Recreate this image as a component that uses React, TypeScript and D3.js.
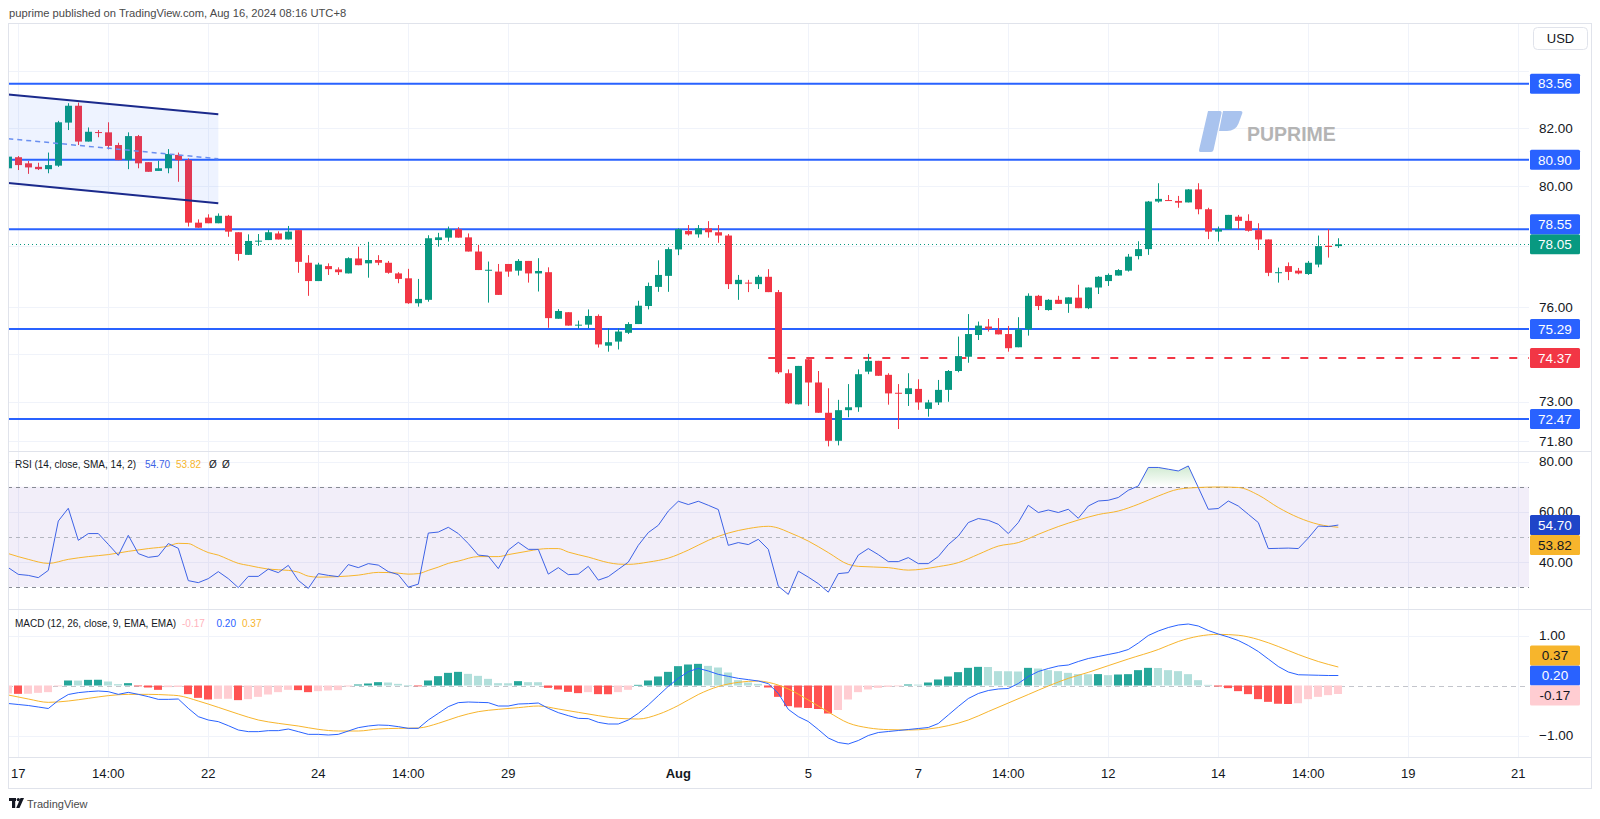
import React from "react";
import * as d3 from "d3";

// ---------- DATA (4h candles, bar index 0..133) ----------
const opens = [
  80.61, 80.99, 80.78, 80.66, 80.58, 80.70, 82.19, 82.78, 81.53, 81.86,
  81.85, 81.41, 80.89, 81.72, 80.82, 80.52, 80.61, 81.07, 80.89, 78.77,
  78.94, 78.75, 79.00, 78.45, 77.70, 78.15, 78.19, 78.41, 78.21, 78.52,
  77.44, 76.84, 77.33, 77.22, 77.09, 77.58, 77.42, 77.53, 77.44, 77.09,
  76.93, 76.12, 76.23, 78.19, 78.27, 78.55, 78.28, 77.81, 77.19, 77.15,
  77.40, 77.18, 77.50, 77.09, 77.13, 75.62, 75.83, 75.41, 75.43, 75.71,
  74.76, 74.89, 75.17, 75.45, 76.03, 76.65, 77.01, 77.88, 78.49, 78.38,
  78.58, 78.45, 78.34, 76.74, 76.79, 76.74, 76.98, 76.48, 73.89, 72.92,
  74.33, 73.60, 72.66, 71.80, 72.74, 72.83, 73.94, 74.28, 73.84, 73.28,
  73.24, 73.40, 72.78, 72.98, 73.37, 73.96, 74.41, 75.10, 75.37, 75.26,
  75.13, 74.71, 75.28, 76.36, 75.90, 76.23, 76.10, 76.30, 75.96, 76.63,
  76.84, 77.02, 77.18, 77.66, 77.89, 79.48, 79.53, 79.50, 79.45, 79.89,
  79.22, 78.47, 78.55, 78.97, 78.83, 78.52, 78.21, 77.11, 77.33, 77.18,
  77.07, 77.38, 78.00, 77.99,
];
const highs = [
  81.20, 81.03, 80.86, 80.80, 81.15, 82.25, 82.87, 82.89, 82.02, 81.93,
  82.20, 81.49, 81.85, 81.76, 80.82, 80.87, 81.27, 81.15, 80.95, 78.88,
  79.05, 79.08, 79.03, 78.45, 78.38, 78.39, 78.53, 78.48, 78.66, 78.52,
  77.69, 77.44, 77.42, 77.29, 77.62, 77.97, 78.13, 77.69, 77.50, 77.13,
  77.24, 76.91, 78.35, 78.43, 78.64, 78.62, 78.41, 78.03, 77.48, 77.40,
  77.40, 77.56, 77.50, 77.59, 77.29, 75.93, 75.83, 75.56, 75.92, 75.76,
  75.31, 75.31, 75.51, 76.20, 76.79, 77.52, 77.95, 78.58, 78.69, 78.69,
  78.82, 78.69, 78.39, 77.04, 76.88, 77.04, 77.23, 76.55, 74.01, 74.12,
  74.37, 73.96, 73.42, 73.06, 73.55, 74.01, 74.50, 74.28, 73.89, 73.55,
  73.89, 73.70, 73.06, 73.68, 73.99, 75.05, 75.77, 75.53, 75.61, 75.64,
  75.39, 75.67, 76.44, 76.39, 76.25, 76.36, 76.31, 76.72, 76.63, 77.00,
  77.09, 77.23, 77.73, 78.15, 79.50, 80.10, 79.70, 79.67, 79.90, 80.10,
  79.27, 78.64, 79.03, 79.03, 79.05, 78.75, 78.21, 77.28, 77.45, 77.27,
  77.50, 78.34, 78.55, 78.25,
];
const lows = [
  80.49, 80.55, 80.42, 80.55, 80.44, 80.66, 81.93, 81.41, 81.53, 81.68,
  81.26, 80.89, 80.58, 80.61, 80.49, 80.52, 80.44, 80.15, 78.64, 78.60,
  78.75, 78.75, 78.30, 77.51, 77.70, 78.00, 78.19, 78.21, 78.21, 77.11,
  76.36, 76.84, 77.04, 77.04, 77.09, 77.36, 76.95, 77.36, 77.08, 76.77,
  76.10, 76.01, 76.17, 77.97, 78.14, 78.27, 77.81, 77.20, 76.14, 76.39,
  76.98, 77.02, 76.79, 76.50, 75.33, 75.62, 75.40, 75.30, 75.31, 74.70,
  74.57, 74.64, 75.13, 75.45, 75.92, 76.49, 76.49, 77.69, 78.34, 78.27,
  78.27, 78.10, 76.58, 76.23, 76.48, 76.58, 76.48, 73.87, 72.93, 72.92,
  72.87, 72.66, 71.63, 71.66, 72.52, 72.69, 73.86, 73.81, 72.91, 72.16,
  72.87, 72.75, 72.54, 72.90, 73.00, 73.92, 74.22, 74.94, 75.21, 75.12,
  74.57, 74.71, 75.08, 75.90, 75.88, 76.10, 75.81, 75.96, 75.93, 76.42,
  76.68, 77.02, 77.15, 77.55, 77.70, 79.44, 79.50, 79.27, 79.45, 79.05,
  78.22, 78.14, 78.55, 78.55, 78.47, 77.86, 77.00, 76.79, 76.87, 77.06,
  77.04, 77.29, 77.61, 77.93,
];
const closes = [
  81.01, 80.72, 80.64, 80.58, 80.72, 82.20, 82.78, 81.53, 81.87, 81.84,
  81.38, 80.89, 81.72, 80.78, 80.49, 80.61, 81.10, 80.89, 78.77, 78.60,
  78.75, 79.00, 78.47, 77.73, 78.16, 78.17, 78.45, 78.21, 78.47, 77.47,
  76.84, 77.38, 77.23, 77.13, 77.59, 77.36, 77.53, 77.44, 77.11, 76.91,
  76.12, 76.26, 78.25, 78.28, 78.55, 78.27, 77.81, 77.20, 77.21, 76.39,
  77.15, 77.50, 77.09, 77.17, 75.64, 75.87, 75.40, 75.43, 75.71, 74.80,
  74.87, 75.21, 75.45, 76.04, 76.68, 77.04, 77.89, 78.55, 78.38, 78.58,
  78.45, 78.34, 76.74, 76.88, 76.77, 76.98, 76.48, 73.92, 72.95, 74.12,
  73.60, 72.66, 71.80, 72.74, 72.83, 73.86, 74.28, 73.81, 73.26, 73.26,
  73.42, 72.98, 72.98, 73.37, 73.96, 74.43, 75.13, 75.40, 75.30, 75.12,
  74.68, 75.28, 76.36, 76.03, 76.23, 76.10, 76.31, 75.96, 76.63, 76.98,
  77.04, 77.20, 77.64, 77.89, 79.48, 79.57, 79.50, 79.44, 79.89, 79.22,
  78.47, 78.55, 79.03, 78.83, 78.50, 78.21, 77.11, 77.13, 77.14, 77.09,
  77.44, 77.99, 77.96, 78.05,
];

const rsiValues = [
  37.7, 35.0, 34.6, 33.7, 36.6, 56.3, 61.4, 48.6, 51.3, 51.3,
  47.0, 42.6, 50.6, 43.3, 41.8, 42.3, 47.3, 45.4, 32.5, 31.7,
  33.3, 36.1, 33.3, 29.7, 34.2, 34.2, 37.1, 35.7, 38.6, 32.6,
  29.4, 35.3, 34.6, 34.1, 38.9, 37.7, 39.3, 38.7, 36.1, 34.9,
  29.9, 31.1, 51.5, 51.9, 53.8, 51.3, 47.3, 42.7, 42.3, 37.3,
  44.7, 47.8, 45.0, 45.0, 35.1, 37.7, 34.9, 35.1, 38.2, 32.7,
  34.1, 37.0, 39.9, 46.6, 51.7, 54.6, 60.3, 64.2, 62.9, 64.2,
  62.6, 60.9, 46.6, 47.7, 46.9, 49.0, 45.0, 30.3, 27.0, 36.3,
  33.9, 31.3, 27.9, 35.3, 35.7, 42.7, 45.3, 42.9, 40.1, 40.1,
  41.7, 39.3, 39.3, 42.1, 46.9, 50.3, 55.7, 57.3, 56.6, 55.0,
  51.3, 55.7, 62.6, 59.7, 60.7, 59.7, 61.0, 57.4, 62.3, 64.3,
  64.6, 65.7, 68.6, 70.3, 77.7, 77.7, 77.0, 76.3, 78.3, 69.7,
  61.0, 61.3, 64.3, 62.3, 59.0, 55.7, 45.3, 45.4, 45.5, 45.3,
  49.5, 54.3, 54.1, 54.70,
];
const rsiMaIdx = [
  0, 2, 4, 6, 8, 10, 12, 14, 16, 17, 18, 19, 20, 21, 22, 23, 24, 26, 28, 29,
  30, 31, 33, 35, 37, 39, 40, 41, 42, 43, 44, 45, 47, 49, 50, 52, 53, 54, 55, 56,
  58, 60, 61, 62, 64, 66, 68, 70, 72, 74, 76, 77, 78, 79, 80, 82, 84, 85, 88, 90,
  93, 95, 97, 99, 101, 103, 105, 107, 109, 111, 113, 115, 117, 119, 121, 123, 125, 127, 129, 131,
  133,
];
const rsiMaValues = [
  43.3, 41.0, 39.4, 41.0, 42.1, 42.9, 44.2, 45.3, 46.3, 47.4, 47.3, 45.5, 43.7, 42.7, 41.0, 39.4, 38.6, 37.1, 36.6, 35.9,
  34.3, 33.9, 34.1, 34.7, 35.8, 35.5, 35.1, 35.3, 36.6, 37.9, 39.4, 40.3, 42.1, 42.1, 42.9, 44.3, 45.0, 45.3, 45.3, 43.9,
  41.9, 39.7, 39.1, 39.0, 39.9, 41.5, 44.7, 48.6, 51.5, 53.3, 54.2, 53.5, 51.9, 50.2, 48.3, 43.7, 39.0, 38.2, 37.7, 36.7,
  38.1, 39.7, 43.0, 46.3, 47.7, 51.0, 54.1, 56.7, 58.9, 60.3, 63.0, 66.3, 69.0, 69.7, 69.9, 69.7, 66.7, 61.7, 57.7, 55.0,
  53.82,
];

const macdValues = [
  -0.36, -0.38, -0.40, -0.43, -0.46, -0.30, -0.18, -0.143, -0.123, -0.11,
  -0.123, -0.177, -0.137, -0.177, -0.223, -0.277, -0.277, -0.27, -0.457, -0.623,
  -0.69, -0.723, -0.803, -0.89, -0.923, -0.923, -0.903, -0.903, -0.87, -0.923,
  -0.977, -0.977, -0.99, -0.977, -0.91, -0.843, -0.81, -0.79, -0.797, -0.823,
  -0.857, -0.857, -0.69, -0.557, -0.423, -0.343, -0.33, -0.337, -0.343, -0.41,
  -0.41, -0.37, -0.363, -0.35, -0.457, -0.543, -0.603, -0.657, -0.663, -0.737,
  -0.77, -0.77, -0.69, -0.557, -0.39, -0.203, -0.017, 0.143, 0.277, 0.343,
  0.29, 0.223, 0.183, 0.143, 0.117, 0.09, 0.037, -0.157, -0.477, -0.623,
  -0.72, -0.88, -1.05, -1.14, -1.17, -1.10, -1.00, -0.94, -0.92, -0.90,
  -0.88, -0.86, -0.84, -0.76, -0.59, -0.42, -0.26, -0.16, -0.10, -0.07,
  -0.06, 0.04, 0.18, 0.28, 0.34, 0.39, 0.41, 0.48, 0.54, 0.58,
  0.62, 0.66, 0.72, 0.85, 1.00, 1.09, 1.16, 1.21, 1.23, 1.19,
  1.10, 1.03, 0.97, 0.90, 0.80, 0.68, 0.53, 0.38, 0.27, 0.215,
  0.21, 0.205, 0.20, 0.20,
];
const signalIdx = [
  0, 2, 4, 6, 8, 10, 12, 14, 16, 17, 19, 21, 23, 25, 27, 29, 31, 33, 35, 37,
  39, 41, 43, 45, 47, 49, 51, 53, 55, 57, 59, 61, 63, 65, 67, 69, 71, 73, 75, 76,
  78, 80, 82, 84, 86, 88, 90, 92, 94, 96, 98, 100, 102, 104, 106, 108, 110, 112, 115, 117,
  119, 121, 123, 125, 127, 129, 131, 133,
];
const signalValues = [
  -0.19, -0.27, -0.337, -0.31, -0.257, -0.203, -0.177, -0.177, -0.19, -0.203, -0.31, -0.437, -0.57, -0.69, -0.757, -0.81, -0.877, -0.91, -0.91, -0.87,
  -0.857, -0.85, -0.757, -0.623, -0.523, -0.477, -0.443, -0.41, -0.47, -0.537, -0.603, -0.657, -0.67, -0.577, -0.40, -0.18, -0.02, 0.063, 0.09, 0.063,
  -0.07, -0.29, -0.53, -0.75, -0.847, -0.883, -0.89, -0.87, -0.803, -0.69, -0.52, -0.35, -0.18, -0.01, 0.143, 0.263, 0.397, 0.53, 0.72, 0.88,
  0.985, 1.023, 1.005, 0.92, 0.78, 0.62, 0.48, 0.37,
];
const histValues = [
  -0.16, -0.167, -0.165, -0.147, -0.133, -0.01, 0.10, 0.098, 0.113, 0.115,
  0.08, 0.027, 0.047, -0.005, -0.04, -0.087, -0.033, -0.03, -0.173, -0.247,
  -0.28, -0.267, -0.265, -0.293, -0.273, -0.227, -0.18, -0.133, -0.087, -0.093,
  -0.133, -0.113, -0.10, -0.093, -0.02, 0.02, 0.04, 0.067, 0.06, 0.033,
  0.003, -0.015, 0.10, 0.187, 0.253, 0.273, 0.233, 0.193, 0.133, 0.047,
  0.045, 0.087, 0.067, 0.066, -0.047, -0.08, -0.127, -0.153, -0.133, -0.173,
  -0.175, -0.133, -0.087, 0.013, 0.10, 0.18, 0.273, 0.387, 0.42, 0.433,
  0.393, 0.36, 0.26, 0.107, 0.06, 0.033, -0.04, -0.227, -0.413, -0.44,
  -0.45, -0.47, -0.56, -0.49, -0.28, -0.133, -0.08, -0.047, -0.027, -0.007,
  0.02, 0.018, 0.06, 0.12, 0.18, 0.267, 0.353, 0.373, 0.37, 0.287,
  0.285, 0.28, 0.353, 0.34, 0.307, 0.287, 0.253, 0.227, 0.225, 0.228,
  0.207, 0.22, 0.227, 0.307, 0.353, 0.35, 0.307, 0.287, 0.227, 0.107,
  0.013, -0.02, -0.053, -0.113, -0.173, -0.273, -0.327, -0.365, -0.37, -0.355,
  -0.273, -0.227, -0.193, -0.17,
];

const timeTickIdx = [1, 10, 20, 31, 40, 50, 67, 80, 91, 100, 110, 121, 130, 140, 151];
const timeTickLabels = ["17", "14:00", "22", "24", "14:00", "29", "Aug", "5", "7", "14:00", "12", "14", "14:00", "19", "21"];

const priceTicks = [84, 82, 80, 78, 76, 74.5, 73, 71.8];
const rsiGridTicks = [80, 60, 40];
const rsiBandLevels = [70, 50, 30];
const macdTicks = [1, -1];

const hLevels = [83.56, 80.9, 78.55, 75.29, 72.47];
const dashedLevel = 74.37;
const dashedStartIdx = 76;
const lastPrice = 78.05;
const channelIdx = [0, 21];
const channelUpper = [83.18, 82.48];
const channelLower = [80.11, 79.42];

const rsiLast = 54.7;
const rsiMaLast = 53.82;
const macdLast = 0.2;
const signalLast = 0.37;
const histLast = -0.17;

// ---------- STYLE ----------
const FONT = "'Liberation Sans', Arial, Helvetica, sans-serif";
const UP = "#089981";
const DOWN = "#f23645";
const LEVEL_BLUE = "#2962ff";
const RSI_LINE = "#3d62e6";
const RSI_BOX = "#1f45c8";
const MA_COLOR = "#f7b52c";
const GRID = "#f0f3fa";
const BORDER = "#e0e3eb";
const TEXT = "#131722";

type BoxItem = { y: number; text: string; bg: string; fg: string; cy?: number };

function placeBoxes(items: BoxItem[], h: number): BoxItem[] {
  const placed: BoxItem[] = [];
  for (const it of items) {
    let y = it.y;
    for (let iter = 0; iter < 6; iter++) {
      let moved = false;
      for (const p of placed) {
        if (Math.abs(y - (p.cy as number)) < h - 0.01) {
          y = it.y < (p.cy as number) ? (p.cy as number) - h : (p.cy as number) + h;
          moved = true;
        }
      }
      if (!moved) break;
    }
    placed.push({ ...it, cy: y });
  }
  return placed;
}

export default function App() {
  const paneL = 8;
  const paneR = 1529;
  const frameR = 1592;
  const priceTop = 23;
  const priceBot = 451;
  const rsiBot = 609;
  const macdBot = 757;
  const axisBot = 788;
  const axisTextX = 1539;
  const axisFont = 13.5;

  const x = d3.scaleLinear().domain([0, 151]).range([8.3, 1518.3]);
  const yP = d3.scaleLog().domain([71.8, 84]).range([440.8, 71.3]);
  const yR = d3.scaleLinear().domain([30, 80]).range([586.9, 461.7]);
  const yM = d3.scaleLinear().domain([-1, 1]).range([735.5, 635.5]);

  const px = (i: number) => Math.round(x(i)) + 0.5;
  const bodyW = 7;
  const histW = 8;

  const rsiLine = d3.line<number>().x((_, i) => x(i)).y((d) => yR(d));
  const obArea = d3.area<number>().x((_, i) => x(i)).y0(yR(70)).y1((d) => yR(d));
  const osArea = d3.area<number>().x((_, i) => x(i)).y0(yR(30)).y1((d) => yR(d));
  const maLine = d3
    .line<number>()
    .x((_, i) => x(rsiMaIdx[i]))
    .y((d) => yR(d))
    .curve(d3.curveMonotoneX);
  const macdLine = d3.line<number>().x((_, i) => x(i)).y((d) => yM(d));
  const sigLine = d3
    .line<number>()
    .x((_, i) => x(signalIdx[i]))
    .y((d) => yM(d))
    .curve(d3.curveMonotoneX);

  const histColor = (i: number) => {
    const v = histValues[i];
    const prev = i > 0 ? histValues[i - 1] : v - 0.01;
    if (v >= 0) return prev < v ? "#26a69a" : "#b2dfdb";
    return prev < v ? "#ffcdd2" : "#ff5252";
  };

  const priceBoxes = placeBoxes(
    [
      { y: yP(lastPrice), text: lastPrice.toFixed(2), bg: UP, fg: "#ffffff" },
      ...hLevels.map((v) => ({ y: yP(v), text: v.toFixed(2), bg: LEVEL_BLUE, fg: "#ffffff" })),
      { y: yP(dashedLevel), text: dashedLevel.toFixed(2), bg: DOWN, fg: "#ffffff" },
    ],
    20
  );
  const rsiBoxes = placeBoxes(
    [
      { y: yR(rsiLast), text: rsiLast.toFixed(2), bg: RSI_BOX, fg: "#ffffff" },
      { y: yR(rsiMaLast), text: rsiMaLast.toFixed(2), bg: MA_COLOR, fg: TEXT },
    ],
    20
  );
  const macdBoxes = placeBoxes(
    [
      { y: yM(macdLast), text: macdLast.toFixed(2), bg: LEVEL_BLUE, fg: "#ffffff" },
      { y: yM(signalLast), text: signalLast.toFixed(2), bg: MA_COLOR, fg: TEXT },
      { y: yM(histLast), text: histLast.toFixed(2), bg: "#ffcdd2", fg: TEXT },
    ],
    20
  );
  const allBoxY = priceBoxes.map((b) => b.cy as number);
  const visiblePriceTicks = priceTicks.filter((t) => allBoxY.every((by) => Math.abs(by - yP(t)) > 13));

  const renderBox = (b: BoxItem, k: string) => (
    <g key={k}>
      <rect x={1530} y={(b.cy as number) - 10} width={50} height={20} fill={b.bg} rx={1.5} />
      <text x={1555} y={(b.cy as number) + 4.7} textAnchor="middle" fontSize={13.5} fill={b.fg}>
        {b.text}
      </text>
    </g>
  );

  const chanU0: [number, number] = [x(channelIdx[0]), yP(channelUpper[0])];
  const chanU1: [number, number] = [x(channelIdx[1]), yP(channelUpper[1])];
  const chanL0: [number, number] = [x(channelIdx[0]), yP(channelLower[0])];
  const chanL1: [number, number] = [x(channelIdx[1]), yP(channelLower[1])];

  return (
    <svg
      width={1600}
      height={819}
      style={{ position: "absolute", left: 0, top: 0, display: "block", background: "#ffffff" }}
      fontFamily={FONT}
    >
      <defs>
        <clipPath id="pricePane">
          <rect x={paneL} y={priceTop} width={paneR - paneL} height={priceBot - priceTop} />
        </clipPath>
        <clipPath id="rsiPane">
          <rect x={paneL} y={priceBot} width={paneR - paneL} height={rsiBot - priceBot} />
        </clipPath>
        <clipPath id="macdPane">
          <rect x={paneL} y={rsiBot} width={paneR - paneL} height={macdBot - rsiBot} />
        </clipPath>
        <clipPath id="obClip">
          <rect x={paneL} y={priceBot} width={paneR - paneL} height={yR(70) - priceBot} />
        </clipPath>
        <clipPath id="osClip">
          <rect x={paneL} y={yR(30)} width={paneR - paneL} height={rsiBot - yR(30)} />
        </clipPath>
        <linearGradient id="obGrad" gradientUnits="userSpaceOnUse" x1={0} y1={yR(80)} x2={0} y2={yR(70)}>
          <stop offset="0" stopColor="#4caf50" stopOpacity={0.32} />
          <stop offset="1" stopColor="#4caf50" stopOpacity={0} />
        </linearGradient>
        <linearGradient id="osGrad" gradientUnits="userSpaceOnUse" x1={0} y1={yR(30)} x2={0} y2={yR(20)}>
          <stop offset="0" stopColor="#f23645" stopOpacity={0} />
          <stop offset="1" stopColor="#f23645" stopOpacity={0.32} />
        </linearGradient>
      </defs>

      {/* header */}
      <text x={9} y={16.5} fontSize={11.2} fill="#4a4a4a">
        puprime published on TradingView.com, Aug 16, 2024 08:16 UTC+8
      </text>

      {/* vertical grid */}
      {timeTickIdx.map((t, i) => (
        <line key={"vg" + i} x1={px(t)} x2={px(t)} y1={priceTop} y2={macdBot} stroke={GRID} strokeWidth={1} />
      ))}
      {/* horizontal grids */}
      {priceTicks.map((t, i) => (
        <line key={"pg" + i} x1={paneL} x2={paneR} y1={Math.round(yP(t)) + 0.5} y2={Math.round(yP(t)) + 0.5} stroke={GRID} />
      ))}
      {rsiGridTicks.map((t, i) => (
        <line key={"rg" + i} x1={paneL} x2={paneR} y1={Math.round(yR(t)) + 0.5} y2={Math.round(yR(t)) + 0.5} stroke={GRID} />
      ))}
      {macdTicks.map((t, i) => (
        <line key={"mg" + i} x1={paneL} x2={paneR} y1={Math.round(yM(t)) + 0.5} y2={Math.round(yM(t)) + 0.5} stroke={GRID} />
      ))}

      {/* watermark */}
      <g>
        <path d="M1208,111 L1220,111 Q1222,111 1221.5,113.5 L1213.5,150 Q1213,152 1211,152 L1200.5,152 Q1198.5,152 1199,150 Z" fill="#a9c3ee" />
        <path d="M1223,111 L1240.5,111 Q1243,111 1242.2,113.5 L1238.5,123.5 Q1235.5,131 1227,131 L1219,131 Z" fill="#a9c3ee" />
        <text x={1247} y={140.5} fontSize={19.5} fontWeight="bold" fill="#b4b4b4">
          PUPRIME
        </text>
      </g>

      {/* PRICE PANE */}
      <g clipPath="url(#pricePane)">
        {hLevels.map((v, i) => (
          <line key={"hl" + i} x1={paneL} x2={paneR} y1={yP(v)} y2={yP(v)} stroke={LEVEL_BLUE} strokeWidth={2} />
        ))}
        <line x1={paneL} x2={paneR} y1={Math.round(yP(lastPrice)) + 0.5} y2={Math.round(yP(lastPrice)) + 0.5} stroke={UP} strokeWidth={1} strokeDasharray="1 3" />
        <line x1={x(dashedStartIdx)} x2={paneR} y1={yP(dashedLevel)} y2={yP(dashedLevel)} stroke={DOWN} strokeWidth={1.8} strokeDasharray="8 11" />

        {closes.map((c, i) => {
          const o = opens[i];
          const up = c >= o;
          const col = up ? UP : DOWN;
          const yt = yP(Math.max(o, c));
          const yb = yP(Math.min(o, c));
          const h = Math.max(1, yb - yt);
          return (
            <g key={"c" + i}>
              <line x1={px(i)} x2={px(i)} y1={yP(highs[i])} y2={yP(lows[i])} stroke={col} strokeWidth={1} />
              <rect x={Math.round(x(i)) - 3} y={yt} width={bodyW} height={h} fill={col} />
            </g>
          );
        })}

        {/* parallel channel */}
        <polygon points={[chanU0, chanU1, chanL1, chanL0].map((p) => p.join(",")).join(" ")} fill="rgba(41,98,255,0.08)" />
        <line x1={chanU0[0]} y1={chanU0[1]} x2={chanU1[0]} y2={chanU1[1]} stroke="#1b2a8c" strokeWidth={2} />
        <line x1={chanL0[0]} y1={chanL0[1]} x2={chanL1[0]} y2={chanL1[1]} stroke="#1b2a8c" strokeWidth={2} />
        <line
          x1={chanU0[0]}
          y1={(chanU0[1] + chanL0[1]) / 2}
          x2={chanU1[0]}
          y2={(chanU1[1] + chanL1[1]) / 2}
          stroke="#6a8ff0"
          strokeWidth={1.5}
          strokeDasharray="5 4"
        />
      </g>

      {/* RSI PANE */}
      <g clipPath="url(#rsiPane)">
        <rect x={paneL} y={yR(70)} width={paneR - paneL} height={yR(30) - yR(70)} fill="rgba(126,87,194,0.1)" />
        {rsiBandLevels.map((v, i) => (
          <line
            key={"rb" + i}
            x1={paneL}
            x2={paneR}
            y1={Math.round(yR(v)) + 0.5}
            y2={Math.round(yR(v)) + 0.5}
            stroke={v === 50 ? "#b2b5be" : "#878b94"}
            strokeDasharray="4 4"
          />
        ))}
        <path d={obArea(rsiValues) || ""} fill="url(#obGrad)" clipPath="url(#obClip)" />
        <path d={osArea(rsiValues) || ""} fill="url(#osGrad)" clipPath="url(#osClip)" />
        <path d={maLine(rsiMaValues) || ""} fill="none" stroke={MA_COLOR} strokeWidth={1} />
        <path d={rsiLine(rsiValues) || ""} fill="none" stroke={RSI_LINE} strokeWidth={1} />
      </g>
      <text fontSize={10} y={467.5}>
        <tspan x={15} fill={TEXT}>RSI (14, close, SMA, 14, 2)</tspan>
        <tspan x={145} fill={RSI_LINE}>{rsiLast.toFixed(2)}</tspan>
        <tspan x={176} fill={MA_COLOR}>{rsiMaLast.toFixed(2)}</tspan>
        <tspan x={209} fill={TEXT}>Ø</tspan>
        <tspan x={222} fill={TEXT}>Ø</tspan>
      </text>

      {/* MACD PANE */}
      <g clipPath="url(#macdPane)">
        <line x1={paneL} x2={paneR} y1={Math.round(yM(0)) + 0.5} y2={Math.round(yM(0)) + 0.5} stroke="#c3c5cc" strokeDasharray="5 4" />
        {histValues.map((v, i) => {
          const y0 = yM(0);
          const y1 = yM(v);
          return (
            <rect
              key={"h" + i}
              x={Math.round(x(i)) - 4}
              y={Math.min(y0, y1)}
              width={histW}
              height={Math.max(0.8, Math.abs(y1 - y0))}
              fill={histColor(i)}
            />
          );
        })}
        <path d={sigLine(signalValues) || ""} fill="none" stroke={MA_COLOR} strokeWidth={1} />
        <path d={macdLine(macdValues) || ""} fill="none" stroke={LEVEL_BLUE} strokeWidth={1} />
      </g>
      <text fontSize={10} y={626.5}>
        <tspan x={15} fill={TEXT}>MACD (12, 26, close, 9, EMA, EMA)</tspan>
        <tspan x={182} fill="#ffb3bd">{histLast.toFixed(2)}</tspan>
        <tspan x={216.5} fill={LEVEL_BLUE}>{macdLast.toFixed(2)}</tspan>
        <tspan x={242} fill={MA_COLOR}>{signalLast.toFixed(2)}</tspan>
      </text>

      {/* pane separators & frame */}
      <line x1={paneL} x2={frameR} y1={priceBot + 0.5} y2={priceBot + 0.5} stroke={BORDER} />
      <line x1={paneL} x2={frameR} y1={rsiBot + 0.5} y2={rsiBot + 0.5} stroke={BORDER} />
      <line x1={paneL} x2={frameR} y1={macdBot + 0.5} y2={macdBot + 0.5} stroke={BORDER} />
      <rect x={paneL + 0.5} y={priceTop + 0.5} width={frameR - paneL - 1} height={axisBot - priceTop} fill="none" stroke={BORDER} />

      {/* price axis */}
      <rect x={1533.5} y={27.5} width={54} height={22} rx={4} fill="#ffffff" stroke={BORDER} />
      <text x={1560.5} y={43} textAnchor="middle" fontSize={13} fill={TEXT}>
        USD
      </text>
      {visiblePriceTicks.map((t, i) => (
        <text key={"pt" + i} x={axisTextX} y={yP(t) + 4.7} fontSize={axisFont} fill={TEXT}>
          {t.toFixed(2)}
        </text>
      ))}
      {priceBoxes.map((b, i) => renderBox(b, "pb" + i))}

      {/* rsi axis */}
      {rsiGridTicks.map((t, i) => (
        <text key={"rt" + i} x={axisTextX} y={yR(t) + 4.7} fontSize={axisFont} fill={TEXT}>
          {t.toFixed(2)}
        </text>
      ))}
      {rsiBoxes.map((b, i) => renderBox(b, "rb" + i))}

      {/* macd axis */}
      {macdTicks.map((t, i) => (
        <text key={"mt" + i} x={axisTextX} y={yM(t) + 4.7} fontSize={axisFont} fill={TEXT}>
          {t < 0 ? "\u2212" + Math.abs(t).toFixed(2) : t.toFixed(2)}
        </text>
      ))}
      {macdBoxes.map((b, i) => renderBox(b, "mb" + i))}

      {/* time axis */}
      {timeTickIdx.map((t, i) => (
        <text
          key={"tt" + i}
          x={x(t)}
          y={777.5}
          textAnchor="middle"
          fontSize={13}
          fill={TEXT}
          fontWeight={timeTickLabels[i] === "Aug" ? "bold" : "normal"}
        >
          {timeTickLabels[i]}
        </text>
      ))}

      {/* TradingView footer */}
      <g fill="#131722">
        <rect x={9} y={798} width={7} height={3} />
        <rect x={12} y={798} width={3.2} height={10} />
        <circle cx={18.3} cy={799.6} r={1.6} />
        <polygon points="20.5,798 24,798 19.5,808 16.2,808" />
      </g>
      <text x={27} y={807.5} fontSize={11} fill="#4a4a4a">
        TradingView
      </text>
    </svg>
  );
}
